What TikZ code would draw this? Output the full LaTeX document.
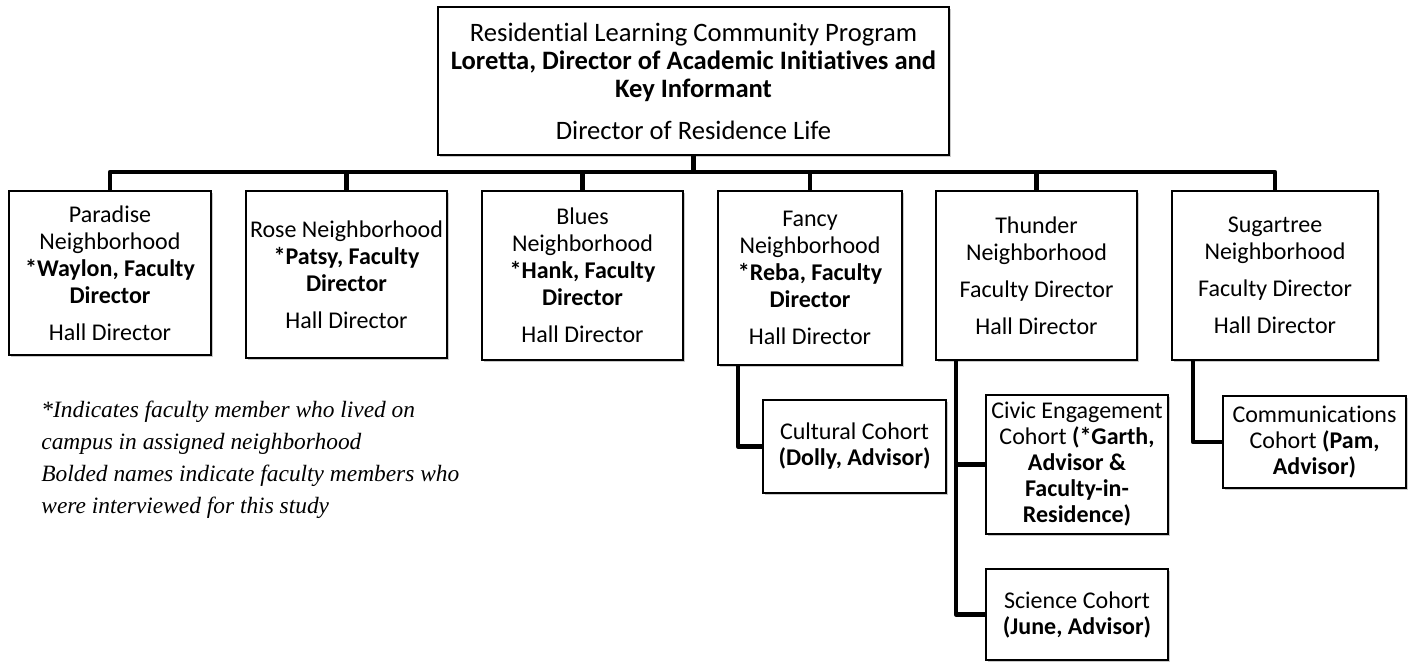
\documentclass[tikz,border=0pt]{standalone}
\usepackage{fontspec}
\setmainfont{Carlito}[Ligatures=NoCommon]
\newfontfamily\notefont{Liberation Serif}
\usetikzlibrary{shadows}
\begin{document}
\begin{tikzpicture}[x=0.5pt,y=-0.5pt,
  box/.style={draw=black, line width=0.8pt, fill=white, align=center, inner sep=0pt,
    font=\fontsize{12}{13.5}\selectfont,
    drop shadow={shadow xshift=0.9pt, shadow yshift=-0.9pt, opacity=0.35, fill=black!60}},
  cohort/.style={box, font=\fontsize{12}{13}\selectfont},
  conn/.style={line width=2.3pt, line cap=butt, line join=round},
  notestyle/.style={align=left, inner sep=0pt, anchor=north west,
    font=\notefont\itshape\fontsize{11.7}{16}\selectfont}
]
\useasboundingbox (0,0) rectangle (1413,662);

\node[box, minimum width=255.5pt, minimum height=74pt, font=\fontsize{13.3}{14}\selectfont] (top) at (693.5,81)
  {Residential Learning Community Program\\
   \textbf{Loretta, Director of Academic Initiatives and}\\
   \textbf{Key Informant}\\[7pt]
   Director of Residence Life};

\node[box, minimum width=101pt, minimum height=82pt] (par) at (110,273)
  {Paradise\\Neighborhood\\\textbf{*Waylon, Faculty}\\\textbf{Director}\\[5pt]Hall Director};
\node[box, minimum width=100.5pt, minimum height=83.5pt] (ros) at (346.5,274.5)
  {Rose Neighborhood\\\textbf{*Patsy, Faculty}\\\textbf{Director}\\[5pt]Hall Director};
\node[box, minimum width=100.5pt, minimum height=84.5pt] (blu) at (582.5,275.5)
  {Blues\\Neighborhood\\\textbf{*Hank, Faculty}\\\textbf{Director}\\[5pt]Hall Director};
\node[box, minimum width=92pt, minimum height=87pt] (fan) at (810,278)
  {Fancy\\Neighborhood\\\textbf{*Reba, Faculty}\\\textbf{Director}\\[5pt]Hall Director};
\node[box, minimum width=100.5pt, minimum height=84.5pt] (thu) at (1036.5,275.5)
  {Thunder\\Neighborhood\\[5pt]Faculty Director\\[5pt]Hall Director};
\node[box, minimum width=103pt, minimum height=84.5pt] (sug) at (1275,275.5)
  {Sugartree\\Neighborhood\\[5pt]Faculty Director\\[5pt]Hall Director};

\node[cohort, minimum width=91.5pt, minimum height=46.5pt] (cul) at (854.5,446.5)
  {Cultural Cohort\\\textbf{(Dolly, Advisor)}};
\node[cohort, minimum width=91pt, minimum height=69.5pt] (civ) at (1077,464.5)
  {Civic Engagement\\Cohort \textbf{(*Garth,}\\\textbf{Advisor \&}\\\textbf{Faculty-in-}\\\textbf{Residence)}};
\node[cohort, minimum width=91pt, minimum height=45.5pt] (sci) at (1077,614.5)
  {Science Cohort\\\textbf{(June, Advisor)}};
\node[cohort, minimum width=91.5pt, minimum height=46pt] (com) at (1314.5,442)
  {Communications\\Cohort \textbf{(Pam,}\\\textbf{Advisor)}};

\coordinate (bar) at (0,172);
\coordinate (fanx) at (738,0);
\coordinate (thux) at (956,0);
\coordinate (sugx) at (1193,0);

\draw[conn] (par.north) -- (par.north |- bar) -- (sug.north |- bar) -- (sug.north);
\draw[conn] (top.south) -- (top.south |- bar);
\foreach \n in {ros,blu,fan,thu}{\draw[conn] (\n.north) -- (\n.north |- bar);}

\draw[conn] (fan.south -| fanx) |- (cul.west);
\draw[conn] (thu.south -| thux) |- (sci.west);
\draw[conn] (civ.west -| thux) -- (civ.west);
\draw[conn] (sug.south -| sugx) |- (com.west);

\node[notestyle] (note) at (41,401)
  {*Indicates faculty member who lived on\\
   campus in assigned neighborhood\\
   Bolded names indicate faculty members who\\
   were interviewed for this study};
\end{tikzpicture}
\end{document}
